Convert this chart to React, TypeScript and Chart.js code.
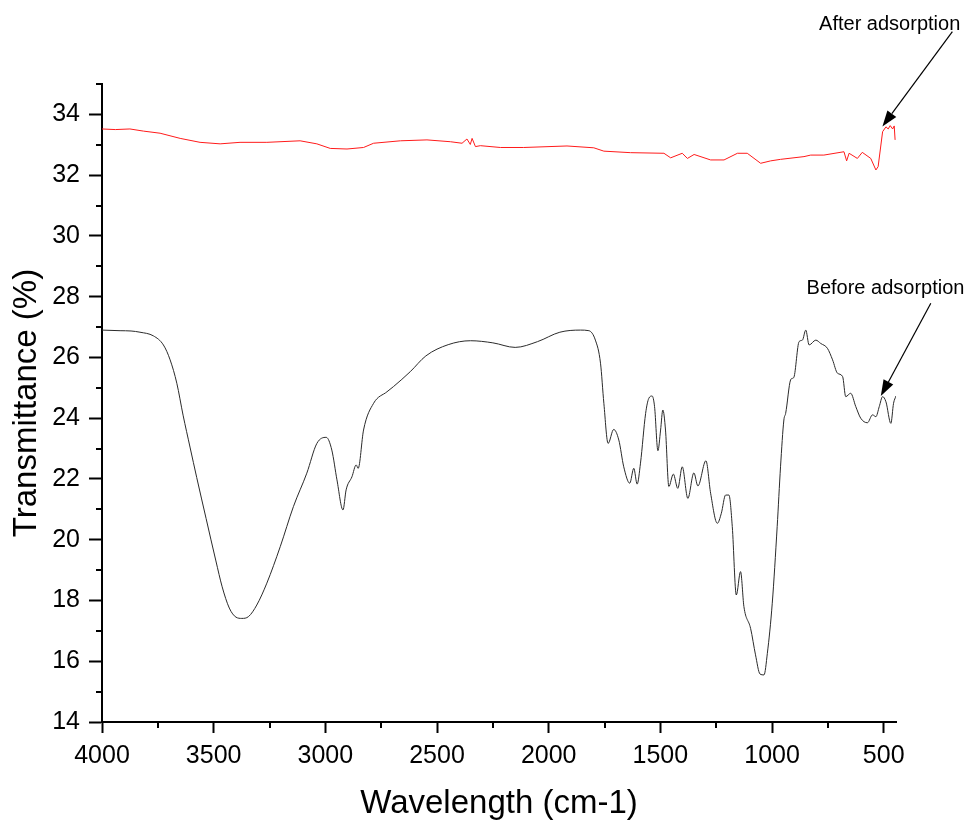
import React, { useEffect, useRef } from "react";
import { Chart, registerables } from "chart.js";

Chart.register(...registerables);

// ---------- data ----------
const beforeX = [
  4000, 3919, 3870, 3830, 3770, 3725, 3695, 3665, 3637, 3606, 3576, 3534, 3490, 3462, 3430, 3400, 3374, 3344, 3307,
  3262, 3202, 3143, 3083, 3038, 2996, 2971, 2948, 2921, 2907, 2881, 2862, 2853, 2829, 2784, 2724, 2695, 2620,
  2550, 2450, 2350, 2250, 2150, 2050, 1950, 1858, 1820, 1791, 1768, 1753, 1734, 1709, 1686, 1664, 1637, 1619,
  1604, 1589, 1566, 1552, 1537, 1526, 1511, 1499, 1489, 1477, 1462, 1442, 1422, 1402, 1377, 1350, 1332, 1296,
  1275, 1245, 1227, 1208, 1193, 1178, 1160, 1141, 1126, 1096, 1074, 1054, 1036, 1021, 999, 977, 962, 947, 939,
  917, 909, 902, 879, 864, 849, 834, 804, 782, 752, 729, 707, 684, 670, 648, 625, 603, 573, 550, 535, 520, 505,
  490, 468, 456, 445,
];
const beforeY = [
  26.9, 26.88, 26.87, 26.83, 26.71, 26.41, 25.92, 25.15, 24.1, 23.05, 22.05, 20.7, 19.3, 18.45, 17.75, 17.45,
  17.41, 17.47, 17.85, 18.57, 19.77, 21.09, 22.19, 23.17, 23.37, 22.95, 21.97, 20.98, 21.64, 22.07, 22.46, 22.35,
  23.61, 24.49, 24.87, 25.04, 25.53, 26.05, 26.42, 26.55, 26.48, 26.33, 26.52, 26.83, 26.9, 26.88, 26.57, 25.81,
  24.49, 23.17, 23.63, 23.28, 22.4, 21.86, 22.35, 21.83, 22.52, 24.16, 24.65, 24.73, 24.38, 22.93, 23.61, 24.27,
  23.61, 21.75, 22.16, 21.69, 22.4, 21.36, 22.2, 21.77, 22.6, 21.53, 20.54, 20.87, 21.47, 21.47, 20.43, 18.18,
  18.95, 17.8, 17.08, 16.21, 15.58, 15.55, 16.26, 17.91, 20.43, 22.4, 23.94, 24.16, 25.26, 25.31, 25.35, 26.52,
  26.57, 26.9, 26.41, 26.57, 26.46, 26.3, 25.92, 25.48, 25.37, 24.71, 24.82, 24.38, 24.0, 23.85, 24.11, 24.05,
  24.38, 24.71, 24.54, 23.83, 24.49, 24.73,
];

const afterX = [
  4000, 3940, 3875, 3815, 3740, 3650, 3561, 3471, 3382, 3262, 3113, 3038, 2978, 2903, 2829, 2784, 2664, 2545,
  2440, 2388, 2366, 2351, 2343, 2328, 2306, 2216, 2112, 1918, 1798, 1753, 1634, 1484, 1454, 1402, 1379, 1349,
  1275, 1215, 1155, 1111, 1051, 1006, 962, 857, 827, 768, 678, 666, 655, 618, 596, 558, 535, 525, 505, 490, 480,
  471, 460, 453, 449,
];
const afterY = [
  33.52, 33.5, 33.52, 33.45, 33.38, 33.21, 33.08, 33.03, 33.08, 33.08, 33.13, 33.03, 32.88, 32.86, 32.91, 33.05,
  33.13, 33.16, 33.1, 33.05, 33.19, 33.01, 33.21, 32.94, 32.97, 32.91, 32.91, 32.96, 32.9, 32.79, 32.74, 32.72,
  32.57, 32.72, 32.55, 32.68, 32.5, 32.5, 32.72, 32.72, 32.39, 32.47, 32.52, 32.61, 32.66, 32.66, 32.77, 32.47,
  32.72, 32.55, 32.75, 32.55, 32.17, 32.28, 33.43, 33.59, 33.52, 33.63, 33.52, 33.62, 33.16,
];

const xTicks = [4000, 3500, 3000, 2500, 2000, 1500, 1000, 500];
const xMinorTicks = [3750, 3250, 2750, 2250, 1750, 1250, 750];
const yTicks = [14, 16, 18, 20, 22, 24, 26, 28, 30, 32, 34];
const yMinorTicks = [15, 17, 19, 21, 23, 25, 27, 29, 31, 33, 35];

const seriesLabels = ["Before adsorption", "After adsorption"];
// arrow tips in data coordinates
const annotationTipX = [513, 506];
const annotationTipY = [24.73, 33.6];

const FONT = "'Liberation Sans', Arial, Helvetica, sans-serif";

export default function App() {
  const ref = useRef<HTMLCanvasElement | null>(null);

  useEffect(() => {
    if (!ref.current) return;

    const minorTicksPlugin = {
      id: "minorTicks",
      afterDraw(chart: any) {
        const { ctx, chartArea, scales } = chart;
        ctx.save();
        ctx.strokeStyle = "#000";
        ctx.lineWidth = 2;
        ctx.beginPath();
        xMinorTicks.forEach((v) => {
          const px = Math.round(scales.x.getPixelForValue(v));
          ctx.moveTo(px, chartArea.bottom);
          ctx.lineTo(px, chartArea.bottom + 6);
        });
        yMinorTicks.forEach((v) => {
          const py = Math.round(scales.y.getPixelForValue(v));
          ctx.moveTo(chartArea.left - 6, py);
          ctx.lineTo(chartArea.left, py);
        });
        ctx.stroke();
        ctx.restore();
      },
    };

    // text offset and tail offset relative to tip (pixels)
    const annLayout = [
      { text: [4.7, -101.7], tail: [50, -92.7] },
      { text: [7.3, -96.7], tail: [70, -95] },
    ];

    const annotationPlugin = {
      id: "arrowAnnotations",
      afterDraw(chart: any) {
        const { ctx, scales } = chart;
        ctx.save();
        seriesLabels.forEach((label, i) => {
          const tx = scales.x.getPixelForValue(annotationTipX[i]);
          const ty = scales.y.getPixelForValue(annotationTipY[i]);
          const lay = annLayout[i];
          const sx = tx + lay.tail[0];
          const sy = ty + lay.tail[1];
          const ang = Math.atan2(ty - sy, tx - sx);
          const headLen = 16;
          const headW = 5.5;
          const bx = tx - headLen * Math.cos(ang);
          const by = ty - headLen * Math.sin(ang);
          ctx.strokeStyle = "#000";
          ctx.lineWidth = 1.2;
          ctx.beginPath();
          ctx.moveTo(sx, sy);
          ctx.lineTo(bx, by);
          ctx.stroke();
          ctx.fillStyle = "#000";
          ctx.beginPath();
          ctx.moveTo(tx, ty);
          ctx.lineTo(bx + headW * Math.sin(ang), by - headW * Math.cos(ang));
          ctx.lineTo(bx - headW * Math.sin(ang), by + headW * Math.cos(ang));
          ctx.closePath();
          ctx.fill();
          ctx.font = `20px ${FONT}`;
          ctx.textAlign = "center";
          ctx.textBaseline = "alphabetic";
          ctx.fillText(label, tx + lay.text[0], ty + lay.text[1]);
        });
        ctx.restore();
      },
    };

    const chart = new Chart(ref.current, {
      type: "line",
      data: {
        datasets: [
          {
            label: seriesLabels[0],
            data: beforeX.map((x, i) => ({ x, y: beforeY[i] })),
            borderColor: "#2a2a2a",
            borderWidth: 1,
            pointRadius: 0,
            cubicInterpolationMode: "monotone",
            fill: false,
          },
          {
            label: seriesLabels[1],
            data: afterX.map((x, i) => ({ x, y: afterY[i] })),
            borderColor: "#ff1a1a",
            borderWidth: 1,
            pointRadius: 0,
            tension: 0,
            fill: false,
          },
        ],
      },
      options: {
        responsive: false,
        animation: false,
        layout: { padding: { top: 84, right: 74, left: 0, bottom: 0 } },
        plugins: { legend: { display: false }, tooltip: { enabled: false } },
        scales: {
          x: {
            type: "linear",
            reverse: true,
            min: 445,
            max: 4000,
            afterBuildTicks: (s: any) => {
              s.ticks = xTicks.map((v) => ({ value: v }));
            },
            afterFit: (s: any) => {
              s.height = 98;
            },
            border: { display: true, color: "#000", width: 2 },
            grid: { drawOnChartArea: false, drawTicks: true, tickLength: 11, tickWidth: 2, tickColor: "#000" },
            ticks: {
              color: "#000",
              font: { family: FONT, size: 25 },
              padding: 8,
              maxRotation: 0,
              autoSkip: false,
              callback: (v: any) => String(v),
            },
            title: {
              display: true,
              text: "Wavelength (cm-1)",
              color: "#000",
              font: { family: FONT, size: 33, lineHeight: 1 },
              padding: { top: 0, bottom: 0 },
            },
          },
          y: {
            type: "linear",
            min: 14,
            max: 35,
            afterBuildTicks: (s: any) => {
              s.ticks = yTicks.map((v) => ({ value: v }));
            },
            afterFit: (s: any) => {
              s.width = 102;
            },
            border: { display: true, color: "#000", width: 2 },
            grid: { drawOnChartArea: false, drawTicks: true, tickLength: 13, tickWidth: 2, tickColor: "#000" },
            ticks: {
              color: "#000",
              font: { family: FONT, size: 25 },
              padding: 9,
              autoSkip: false,
              callback: (v: any) => String(v),
            },
            title: {
              display: true,
              text: "Transmittance (%)",
              color: "#000",
              font: { family: FONT, size: 33, lineHeight: 1 },
              padding: { top: 10, bottom: 0 },
            },
          },
        },
      },
      plugins: [minorTicksPlugin, annotationPlugin],
    } as any);

    return () => chart.destroy();
  }, []);

  return (
    <div style={{ position: "absolute", left: 0, top: 0, width: 970, height: 820, background: "#fff" }}>
      <canvas ref={ref} width={970} height={820} style={{ display: "block", width: 970, height: 820 }} />
    </div>
  );
}
